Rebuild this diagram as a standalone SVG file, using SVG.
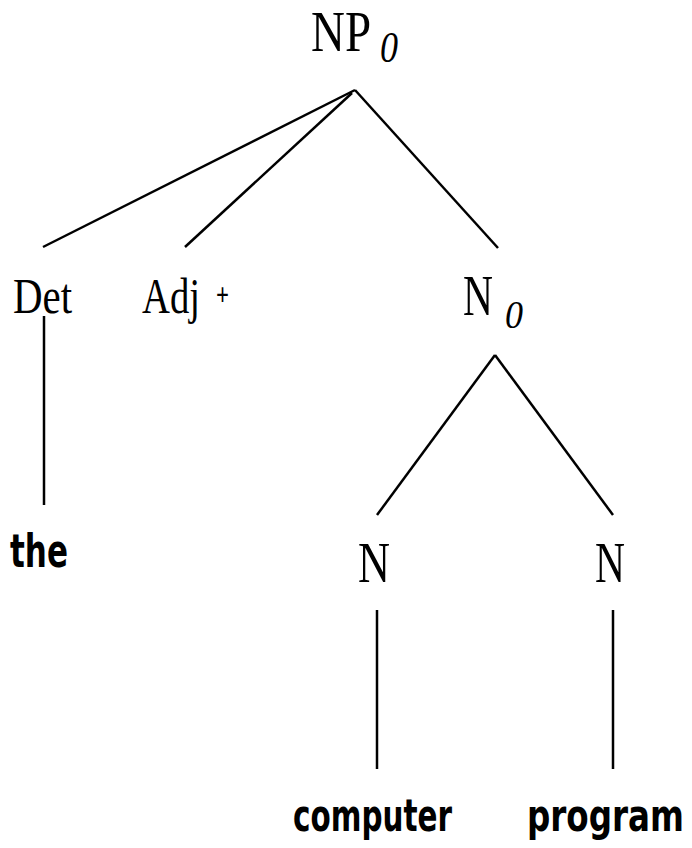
<svg xmlns="http://www.w3.org/2000/svg" width="692" height="848" viewBox="0 0 692 848">
<style>
.lbl{font-family:"Liberation Serif","Times New Roman",serif;fill:#000}
.sub{font-family:"Liberation Serif","Times New Roman",serif;font-style:italic;fill:#000}
.word{font-family:"DejaVu Sans","Liberation Sans",sans-serif;font-weight:bold;fill:#000}
.edge{stroke:#000;stroke-width:2.5;fill:none}
</style>
<rect width="692" height="848" fill="#fff"/>
<g id="connectors">
<line class="edge" x1="355" y1="90" x2="43" y2="247"/>
<line class="edge" x1="352" y1="93" x2="185" y2="247"/>
<line class="edge" x1="355" y1="90" x2="498" y2="248"/>
<line class="edge" x1="44" y1="316" x2="44" y2="505"/>
<line class="edge" x1="495" y1="355" x2="377" y2="515"/>
<line class="edge" x1="495" y1="355" x2="613" y2="515"/>
<line class="edge" x1="377" y1="610" x2="377" y2="769"/>
<line class="edge" x1="613" y1="610" x2="613" y2="769"/>
</g>
<g id="np0">
<text class="lbl" x="311" y="51" font-size="57" textLength="60" lengthAdjust="spacingAndGlyphs">NP</text>
<text class="sub" x="380" y="62" font-size="44" textLength="18" lengthAdjust="spacingAndGlyphs">0</text>
</g>
<g id="det">
<text class="lbl" x="13" y="313" font-size="50" textLength="59" lengthAdjust="spacingAndGlyphs">Det</text>
</g>
<g id="adj">
<text class="lbl" x="142" y="313" font-size="50" textLength="58" lengthAdjust="spacingAndGlyphs">Adj</text>
<text class="lbl" x="216" y="305" font-size="32" font-weight="bold" textLength="13" lengthAdjust="spacingAndGlyphs">+</text>
</g>
<g id="n0">
<text class="lbl" x="463" y="315" font-size="56" textLength="30" lengthAdjust="spacingAndGlyphs">N</text>
<text class="sub" x="505" y="328" font-size="41" textLength="18" lengthAdjust="spacingAndGlyphs">0</text>
</g>
<g id="the">
<text class="word" x="10" y="567" font-size="47" textLength="58" lengthAdjust="spacingAndGlyphs">the</text>
</g>
<g id="n-left">
<text class="lbl" x="358" y="582" font-size="58" textLength="32" lengthAdjust="spacingAndGlyphs">N</text>
</g>
<g id="n-right">
<text class="lbl" x="595" y="582" font-size="58" textLength="30" lengthAdjust="spacingAndGlyphs">N</text>
</g>
<g id="computer">
<text class="word" x="293" y="831" font-size="45" textLength="159" lengthAdjust="spacingAndGlyphs">computer</text>
</g>
<g id="program">
<text class="word" x="527" y="831" font-size="45" textLength="157" lengthAdjust="spacingAndGlyphs">program</text>
</g>
</svg>
